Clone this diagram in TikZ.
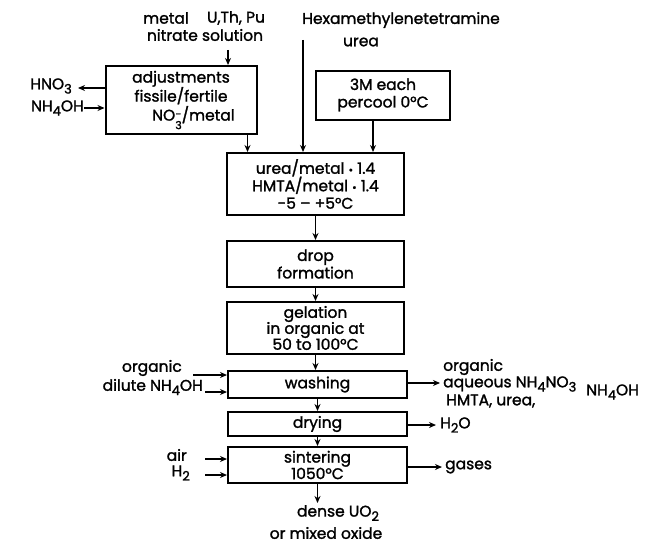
\documentclass[tikz,border=0pt]{standalone}
\usepackage{fontspec}
\setmainfont{Poppins}[FakeBold=1.5]
\usetikzlibrary{arrows.meta}
\newcommand\subs[1]{\raisebox{-0.5ex}{\fontsize{13}{13}\selectfont #1}}
\newcommand\nothree{NO\raisebox{-1.0ex}{\fontsize{11}{10}\selectfont\shortstack[c]{-\\3}}}
\begin{document}
\begin{tikzpicture}[x=1pt,y=-1pt,
  every node/.style={font=\fontsize{15.5}{16}\selectfont, inner sep=0pt},
  box/.style={draw, line width=2pt, align=center, font=\fontsize{15.5}{17.5}\selectfont},
  arr/.style={line width=1.8pt, -{Stealth[length=7pt,width=6pt]}},
  lbl/.style={align=left, anchor=west}]
\useasboundingbox (0,0) rectangle (660,543);
\fill[white] (0,0) rectangle (660,543);
% boxes
\node[box, minimum width=151pt, minimum height=68pt, font=\fontsize{15.5}{19}\selectfont] (adj) at (181,100) {adjustments\\fissile/fertile\\\hspace*{1.6em}\nothree/metal};
\node[box, minimum width=134pt, minimum height=49pt] (m3) at (383,95) {3M each\\percool 0°C};
\node[box, minimum width=177pt, minimum height=62pt] (urea) at (315.5,184) {urea/metal {\fontsize{11}{11}\selectfont•} 1.4\\HMTA/metal {\fontsize{11}{11}\selectfont•} 1.4\\-5 -- +5°C};
\node[box, minimum width=177pt, minimum height=46pt] (drop) at (315.5,264) {drop\\formation};
\node[box, minimum width=177pt, minimum height=52pt, font=\fontsize{15.5}{16}\selectfont] (gel) at (315.5,328) {gelation\\in organic at\\50 to 100°C};
\node[box, minimum width=179pt, minimum height=27pt] (wash) at (317.5,384.5) {washing};
\node[box, minimum width=179pt, minimum height=24pt] (dry) at (317.5,424) {drying};
\node[box, minimum width=179pt, minimum height=36pt, font=\fontsize{15.5}{15}\selectfont] (sint) at (317.5,465) {sintering\\1050°C};
% top inputs
\node (metal) at (166,18) {metal};
\node (uthpu) at (236,18) {U,Th, Pu};
\node (nitr) at (205,35) {nitrate solution};
\coordinate (metin) at (228,50);
\draw[arr] (metin) -- (metin |- adj.north);
\node (hexa) at (401,20) {Hexamethylenetetramine};
\node (ureatxt) at (361,42) {urea};
\coordinate (hx) at (303,40);
\draw[arr] (hx) -- (hx |- urea.north);
\draw[arr] ([xshift=-10pt]m3.south) -- ([xshift=-10pt]m3.south |- urea.north);
\draw[arr] ([xshift=-10pt]adj.south east) -- ([xshift=-10pt]adj.south east |- urea.north);
% left of adjustments
\node[anchor=east] (hno) at (72,86) {HNO\subs{3}};
\node[anchor=east] (nh4) at (84,108) {NH\subs{4}OH};
\coordinate (hnoc) at (78,88);
\draw[arr] (hnoc -| adj.west) -- (hnoc);
\coordinate (nh4c) at (84,108);
\draw[arr] (nh4c) -- (nh4c -| adj.west);
% stack connectors
\draw[arr] (urea.south) -- (drop.north);
\draw[arr] (drop.south) -- (gel.north);
\draw[arr] (gel.south) -- (gel.south |- wash.north);
\draw[arr] (wash.south) -- (dry.north);
\draw[arr] (dry.south) -- (sint.north);
\node (dense) at (338,513) {dense UO\subs{2}};
\node (mixed) at (326,533) {or mixed oxide};
\coordinate (outc) at (317.5,503);
\draw[arr] (sint.south) -- (outc);
% washing inputs
\node[anchor=east] (org1) at (182,368) {organic};
\node[anchor=east] (dil) at (203,387) {dilute NH\subs{4}OH};
\coordinate (o1) at (193,375);
\draw[arr] (o1) -- (o1 -| wash.west);
\coordinate (o2) at (205,392);
\draw[arr] (o2) -- (o2 -| wash.west);
% washing outputs
\coordinate (wo) at (440,383);
\draw[arr] (wo -| wash.east) -- (wo);
\node[lbl] (org2) at (443,367) {organic};
\node[lbl] (aq) at (443,384) {aqueous NH\subs{4}NO\subs{3}};
\node[lbl] (hm) at (446,401) {HMTA, urea,};
\node[lbl] (nh4b) at (586,392) {NH\subs{4}OH};
% drying output
\coordinate (do) at (436,425);
\draw[arr] (do -| dry.east) -- (do);
\node[lbl] (h2o) at (440,425) {H\subs{2}O};
% sintering
\node[anchor=east] (air) at (187,455) {air};
\node[anchor=east] (h2) at (190,473) {H\subs{2}};
\coordinate (a1) at (205,459);
\draw[arr] (a1) -- (a1 -| sint.west);
\coordinate (a2) at (205,475);
\draw[arr] (a2) -- (a2 -| sint.west);
\coordinate (go) at (442,467);
\draw[arr] (go -| sint.east) -- (go);
\node[lbl] (gas) at (445,467) {gases};
\end{tikzpicture}
\end{document}
